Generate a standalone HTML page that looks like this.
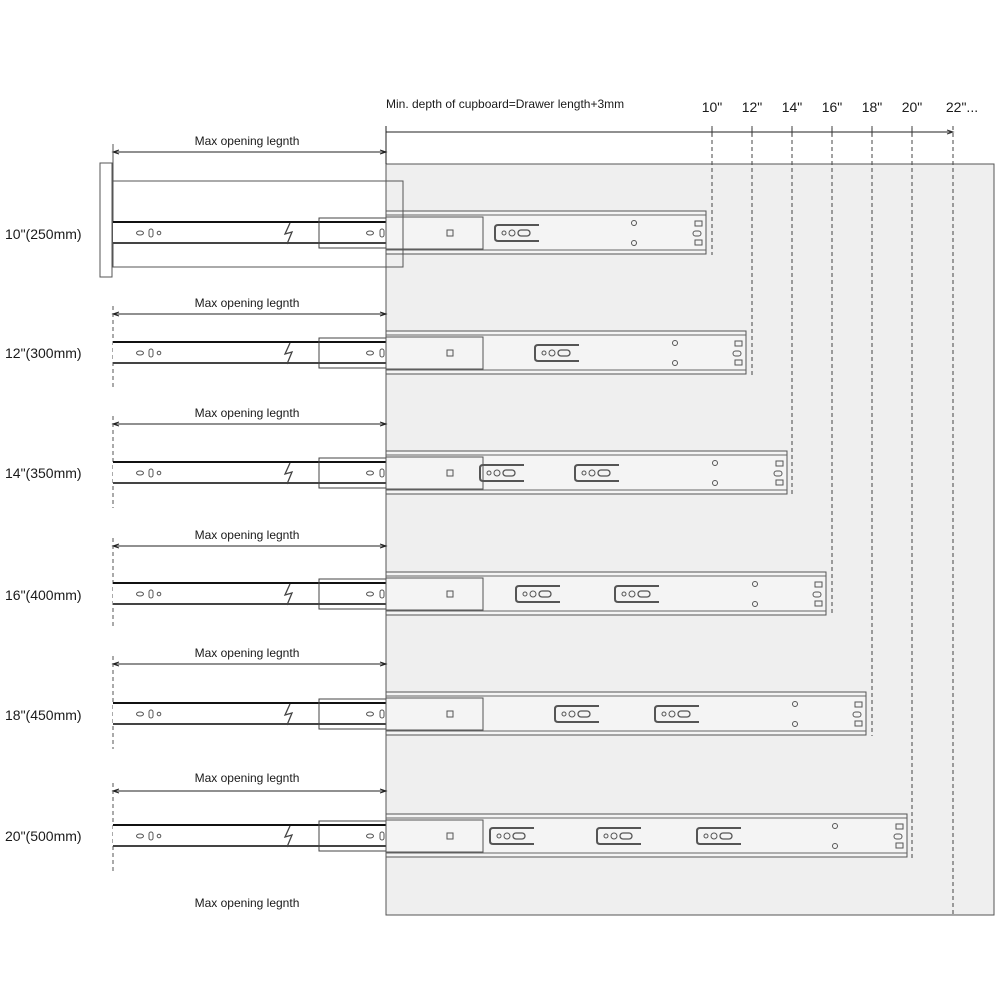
<!DOCTYPE html>
<html><head><meta charset="utf-8"><style>
html,body{margin:0;padding:0;background:#fff;}
svg{display:block;}
text{font-family:"Liberation Sans",Arial,sans-serif;fill:#1a1a1a;}
</style></head><body>
<svg id="s" width="999" height="999" viewBox="0 0 999 999" xmlns="http://www.w3.org/2000/svg">
<rect x="386" y="164" width="608" height="751" fill="#efefef" stroke="#555" stroke-width="1"/>
<text x="386" y="108" font-size="12">Min. depth of cupboard=Drawer length+3mm</text>
<g font-size="14" text-anchor="middle">
<text x="712" y="112">10"</text><text x="752" y="112">12"</text><text x="792" y="112">14"</text>
<text x="832" y="112">16"</text><text x="872" y="112">18"</text><text x="912" y="112">20"</text>
<text x="962" y="112">22"...</text>
</g>
<line x1="386" y1="132" x2="953" y2="132" stroke="#222" stroke-width="1"/>
<line x1="386" y1="126" x2="386" y2="164" stroke="#222" stroke-width="1"/>
<g font-size="12" text-anchor="middle">
<text x="247" y="145">Max opening legnth</text>
<text x="247" y="307">Max opening legnth</text>
<text x="247" y="417">Max opening legnth</text>
<text x="247" y="539">Max opening legnth</text>
<text x="247" y="657">Max opening legnth</text>
<text x="247" y="782">Max opening legnth</text>
<text x="247" y="907">Max opening legnth</text>
</g>
<g font-size="14">
<text x="5" y="239">10"(250mm)</text>
<text x="5" y="358">12"(300mm)</text>
<text x="5" y="478">14"(350mm)</text>
<text x="5" y="600">16"(400mm)</text>
<text x="5" y="720">18"(450mm)</text>
<text x="5" y="841">20"(500mm)</text>
</g>
<rect x="100" y="163" width="12" height="114" fill="#fff" stroke="#555"/>
<rect x="113" y="181" width="290" height="86" fill="none" stroke="#555"/>
<g id="g"></g>
</svg>
<script>
var g=document.getElementById('g');var h='';
var rows=[
 {c:233,d:152,end:706,dx:712,sl:[495],hx:634},
 {c:353,d:314,end:746,dx:752,sl:[535],hx:675},
 {c:473,d:424,end:787,dx:792,sl:[480,575],hx:715},
 {c:594,d:546,end:826,dx:832,sl:[516,615],hx:755},
 {c:714,d:664,end:866,dx:872,sl:[555,655],hx:795},
 {c:836,d:791,end:907,dx:912,sl:[490,597,697],hx:835}];
rows.forEach(function(r,i){
 var c=r.c;
 h+='<line x1="113" y1="'+r.d+'" x2="386" y2="'+r.d+'" stroke="#222"/>';
 h+='<path d="M119 '+(r.d-2)+'L113 '+r.d+'L119 '+(r.d+2)+'M380 '+(r.d-2)+'L386 '+r.d+'L380 '+(r.d+2)+'" stroke="#222" fill="none"/>';
 if(i>0)h+='<line x1="113" y1="'+(r.d-8)+'" x2="113" y2="'+(c+35)+'" stroke="#555" stroke-dasharray="4,3"/>';
 else h+='<line x1="113" y1="'+(r.d-8)+'" x2="113" y2="181" stroke="#555"/>';
 h+='<rect x="113" y="'+(c-11)+'" width="273" height="21" fill="#fff"/>';
 h+='<line x1="113" y1="'+(c-11)+'" x2="386" y2="'+(c-11)+'" stroke="#111" stroke-width="2"/>';
 h+='<line x1="113" y1="'+(c+10)+'" x2="386" y2="'+(c+10)+'" stroke="#444" stroke-width="2"/>';
 h+='<ellipse cx="140" cy="'+c+'" rx="3.5" ry="2" fill="none" stroke="#555"/>';
 h+='<rect x="149" y="'+(c-4)+'" width="4" height="8" rx="2" fill="none" stroke="#555"/>';
 h+='<circle cx="159" cy="'+c+'" r="1.8" fill="none" stroke="#555"/>';
 h+='<path d="M290 '+(c-10)+'L285 '+(c+1)+'L292 '+(c-1)+'L287 '+(c+11)+'" stroke="#444" fill="none" stroke-width="1.3"/>';
 h+='<rect x="319" y="'+(c-15)+'" width="67" height="30" fill="none" stroke="#444"/>';
 h+='<ellipse cx="370" cy="'+c+'" rx="3.5" ry="2" fill="none" stroke="#555"/>';
 h+='<rect x="380" y="'+(c-4)+'" width="4" height="8" rx="2" fill="none" stroke="#555"/>';
 var w=r.end-386;
 h+='<rect x="386" y="'+(c-22)+'" width="'+w+'" height="43" fill="#f4f4f4" stroke="#555"/>';
 h+='<line x1="386" y1="'+(c-18)+'" x2="'+r.end+'" y2="'+(c-18)+'" stroke="#666"/>';
 h+='<line x1="386" y1="'+(c+17)+'" x2="'+r.end+'" y2="'+(c+17)+'" stroke="#666"/>';
 h+='<rect x="386" y="'+(c-16)+'" width="97" height="32" fill="#f4f4f4" stroke="#555"/>';
 h+='<rect x="447" y="'+(c-3)+'" width="6" height="6" fill="none" stroke="#555"/>';
 r.sl.forEach(function(x){
  h+='<path d="M'+(x+44)+' '+(c-8)+'H'+(x+3)+'Q'+x+' '+(c-8)+' '+x+' '+(c-5)+'V'+(c+5)+'Q'+x+' '+(c+8)+' '+(x+3)+' '+(c+8)+'H'+(x+44)+'" fill="none" stroke="#555" stroke-width="2"/>';
  h+='<circle cx="'+(x+9)+'" cy="'+c+'" r="2" fill="none" stroke="#555"/>';
  h+='<circle cx="'+(x+17)+'" cy="'+c+'" r="3" fill="none" stroke="#555"/>';
  h+='<rect x="'+(x+23)+'" y="'+(c-3)+'" width="12" height="6" rx="3" fill="none" stroke="#555" stroke-width="1.3"/>';
 });
 h+='<circle cx="'+r.hx+'" cy="'+(c-10)+'" r="2.5" fill="none" stroke="#555"/>';
 h+='<circle cx="'+r.hx+'" cy="'+(c+10)+'" r="2.5" fill="none" stroke="#555"/>';
 var ex=r.end-11;
 h+='<rect x="'+ex+'" y="'+(c-12)+'" width="7" height="5" fill="none" stroke="#555"/>';
 h+='<rect x="'+(ex-2)+'" y="'+(c-2)+'" width="8" height="5" rx="2.5" fill="none" stroke="#555"/>';
 h+='<rect x="'+ex+'" y="'+(c+7)+'" width="7" height="5" fill="none" stroke="#555"/>';
 h+='<line x1="'+r.dx+'" y1="126" x2="'+r.dx+'" y2="'+(c+22)+'" stroke="#444" stroke-dasharray="4,3"/>';
 h+='<line x1="'+r.dx+'" y1="128" x2="'+r.dx+'" y2="136" stroke="#333"/>';
});
h+='<line x1="953" y1="126" x2="953" y2="915" stroke="#444" stroke-dasharray="4,3"/>';
h+='<path d="M947 130L953 132L947 134" stroke="#333" fill="none"/>';
h+='<line x1="403" y1="181" x2="403" y2="267" stroke="#555"/>';
g.innerHTML=h;
</script>
</body></html>
